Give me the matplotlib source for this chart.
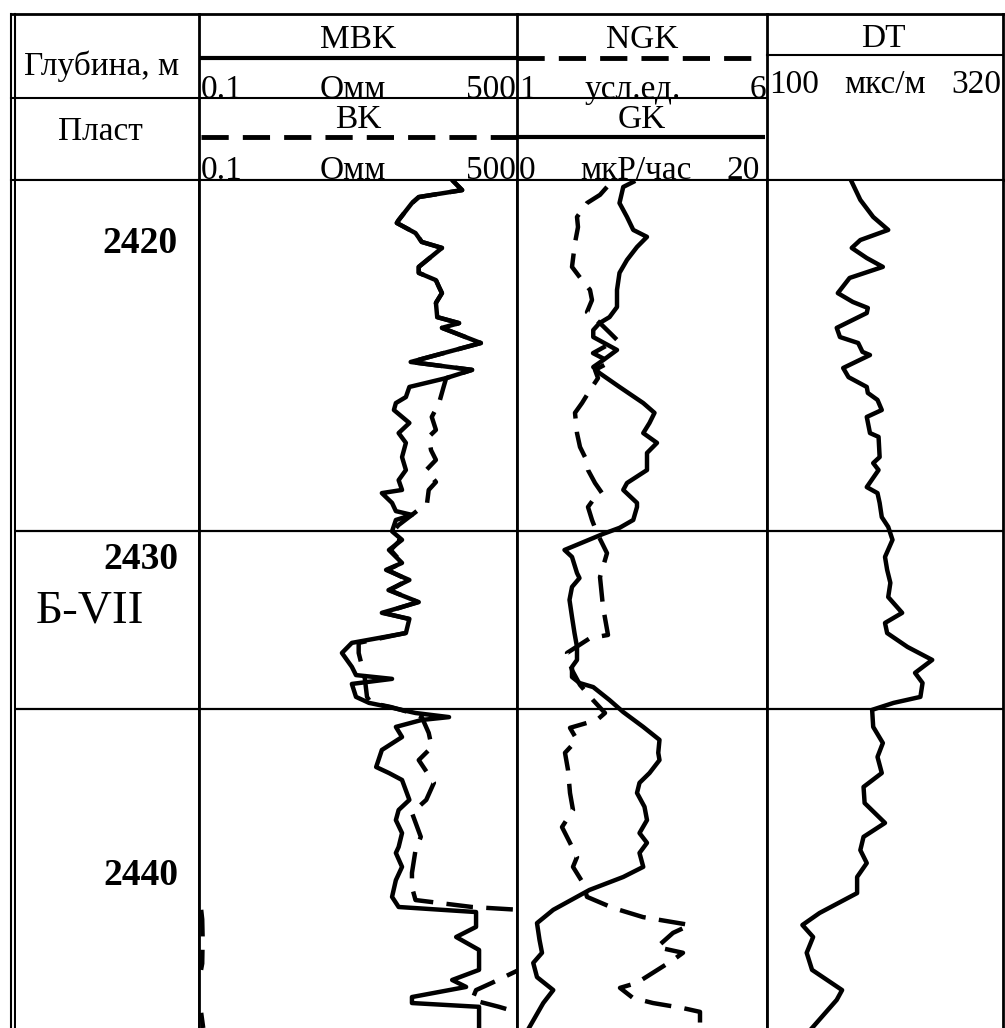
import numpy as np
import matplotlib
matplotlib.use("Agg")
import matplotlib.pyplot as plt

plt.rcParams['font.family'] = ['Liberation Serif', 'DejaVu Serif']

# ---------------- data ----------------
depth_top, depth_bottom = 2418.0, 2444.84
depth_labels = [2420, 2430, 2440]
boundary_depths = [2429.1, 2434.75]
layer_name = "Б-VII"
layer_depth = 2431.65

res_range = (0.1, 500)      # Омм (MBK, BK)
ngk_range = (1, 6)          # усл.ед.
gk_range = (0, 20)          # мкР/час
dt_range = (100, 320)       # мкс/м

mbk_depth = [2418.00, 2418.32, 2418.54, 2418.73, 2419.27, 2419.36, 2419.68, 2419.96, 2420.15, 2420.75,
             2420.94, 2421.17, 2421.39, 2421.58, 2421.89, 2422.34, 2422.53, 2422.68, 2423.16, 2423.76,
             2424.01, 2424.27, 2424.55, 2424.87, 2425.06, 2425.28, 2425.69, 2426.01, 2426.32, 2426.77,
             2427.18, 2427.50, 2427.81, 2427.91, 2428.22, 2428.48, 2428.60, 2428.76, 2429.12, 2429.39,
             2429.71, 2430.12, 2430.34, 2430.66, 2430.98, 2431.36, 2431.70, 2431.89, 2432.34, 2432.65,
             2432.97, 2433.41, 2433.67, 2433.79, 2433.95, 2434.36, 2434.55, 2434.68, 2434.87, 2435.00,
             2435.09, 2435.31, 2435.63, 2436.04, 2436.58, 2436.77, 2436.99, 2437.62, 2437.94, 2438.26,
             2438.67, 2439.11, 2439.30, 2439.74, 2440.16, 2440.69, 2441.01, 2441.10, 2441.17, 2441.64,
             2441.96, 2442.37, 2443.00, 2443.32, 2443.54, 2443.86, 2444.05, 2444.17, 2444.84]
mbk_value = [88, 115, 36, 30, 21, 20, 33, 39, 67, 36,
             36, 57, 62, 67, 57, 59, 106, 67, 190, 29,
             150, 75, 28, 25.5, 19.5, 18.5, 28, 21, 25.5, 23,
             25.5, 21, 23, 13.4, 17.6, 19.5, 30, 19.5, 17.6, 23,
             16.2, 23, 15, 28, 16, 36, 13.4, 28, 25.5, 6.0,
             4.6, 6.0, 6.7, 17.6, 6.0, 6.7, 9.5, 16.2, 33, 81,
             39, 19.5, 23, 13.4, 11.5, 16.2, 23, 28, 21, 19.5,
             23, 21, 19.5, 23, 19.5, 17.6, 21, 67, 167, 167,
             98, 181, 181, 88, 128, 30, 30, 181, 181]

bk_depth = [2418.00, 2418.32, 2418.54, 2418.73, 2419.27, 2419.36, 2419.68, 2419.96, 2420.15, 2420.75,
            2420.94, 2421.17, 2421.39, 2421.58, 2421.89, 2422.34, 2422.53, 2422.68, 2423.16, 2423.76,
            2424.01, 2424.27, 2424.55, 2425.06, 2425.50, 2425.91, 2426.13, 2426.55, 2426.86, 2427.18,
            2427.56, 2427.81, 2428.22, 2428.54, 2428.92, 2429.12, 2429.39, 2429.71, 2430.12, 2430.34,
            2430.66, 2430.98, 2431.36, 2431.70, 2431.89, 2432.34, 2432.65, 2432.97, 2433.41, 2433.79,
            2434.36, 2434.55, 2434.68, 2434.87, 2435.00, 2435.50, 2435.95, 2436.36, 2437.08, 2437.62,
            2438.03, 2438.79, 2439.21, 2439.93, 2440.38, 2440.79, 2441.01, 2441.10, 2441.40, 2441.90,
            2442.40, 2442.80, 2443.00, 2443.41, 2443.64, 2443.95, 2444.17, 2444.36, 2444.84]
bk_value = [88, 115, 36, 30, 21, 20, 33, 39, 67, 36,
            36, 57, 62, 67, 57, 59, 106, 67, 190, 29,
            150, 75, 70, 62, 51, 57, 47, 50, 57, 44,
            57, 47, 45, 32, 21, 18, 22, 17, 23, 15.5,
            27, 16.5, 35, 14, 27, 25, 7.2, 7.2, 7.9, 8.5,
            9.0, 10, 17, 30, 39, 47, 51, 36, 54, 44,
            30, 38, 33, 30, 30, 33, 150, 530, 545, 550,
            548, 545, 528, 256, 167, 150, 309, 530, 560]

gk_depth = [2418.06, 2418.22, 2418.73, 2419.17, 2419.58, 2419.80, 2420.12, 2420.53, 2420.94, 2421.48,
            2422.02, 2422.34, 2422.53, 2422.75, 2422.97, 2423.38, 2423.70, 2423.92, 2424.11, 2424.55,
            2425.06, 2425.37, 2425.69, 2426.01, 2426.32, 2426.64, 2427.18, 2427.59, 2427.81, 2428.22,
            2428.35, 2428.76, 2429.01, 2429.20, 2429.71, 2429.93, 2430.44, 2430.60, 2430.88, 2431.29,
            2431.83, 2432.34, 2432.78, 2433.19, 2433.41, 2433.73, 2433.92, 2434.05, 2434.46, 2434.84,
            2435.31, 2435.72, 2436.13, 2436.36, 2436.77, 2437.08, 2437.40, 2437.84, 2438.26, 2438.67,
            2438.98, 2439.30, 2439.74, 2440.06, 2440.47, 2441.10, 2441.52, 2442.05, 2442.46, 2442.78,
            2443.23, 2443.64, 2444.05, 2444.81]
gk_value = [9.3, 8.5, 8.2, 8.8, 9.3, 10.4, 9.6, 8.8, 8.2, 8.0,
            8.0, 7.4, 6.6, 6.1, 6.1, 8.0, 6.9, 6.1, 6.6, 8.2,
            10.1, 11.0, 10.6, 10.1, 11.2, 10.4, 10.4, 8.8, 8.5, 9.6,
            9.6, 9.3, 8.2, 6.9, 3.8, 4.4, 4.8, 5.0, 4.4, 4.2,
            4.4, 4.6, 4.8, 4.8, 4.4, 4.4, 5.0, 6.1, 7.4, 8.5,
            10.1, 11.4, 11.3, 11.4, 10.6, 9.8, 9.6, 10.2, 10.4, 9.8,
            10.4, 9.8, 10.1, 8.5, 5.8, 2.9, 1.6, 1.8, 2.0, 1.3,
            1.6, 2.9, 2.1, 1.0]

ngk_depth = [2418.22, 2418.47, 2418.73, 2419.17, 2419.49, 2419.99, 2420.75, 2421.17, 2421.48, 2421.80,
             2422.18, 2422.53, 2422.84, 2423.06, 2423.48, 2423.76, 2424.01, 2424.27, 2424.65, 2425.06,
             2425.37, 2426.01, 2426.45, 2426.77, 2427.18, 2427.59, 2427.91, 2428.13, 2428.35, 2428.76,
             2429.17, 2429.81, 2430.57, 2431.51, 2432.40, 2432.50, 2432.97, 2433.51, 2433.98, 2434.46,
             2434.87, 2435.09, 2435.34, 2435.72, 2436.13, 2436.67, 2437.40, 2437.94, 2438.48, 2438.98,
             2439.43, 2439.74, 2440.25, 2440.69, 2441.04, 2441.33, 2441.58, 2441.83, 2442.28, 2442.46,
             2442.69, 2443.41, 2443.57, 2443.89, 2444.05, 2444.21, 2444.33, 2444.68, 2444.84]
ngk_value = [2.80, 2.66, 2.40, 2.20, 2.22, 2.16, 2.10, 2.30, 2.46, 2.50,
             2.40, 2.66, 2.86, 3.00, 2.52, 2.86, 2.56, 2.62, 2.46, 2.30,
             2.16, 2.20, 2.26, 2.36, 2.42, 2.56, 2.70, 2.52, 2.42, 2.50,
             2.60, 2.80, 2.66, 2.72, 2.82, 2.46, 2.00, 2.10, 2.26, 2.52,
             2.76, 2.60, 2.06, 2.20, 1.96, 2.02, 2.06, 2.12, 1.90, 2.06,
             2.20, 2.12, 2.32, 2.40, 2.92, 3.52, 4.46, 4.12, 3.80, 4.32,
             4.12, 3.40, 3.06, 3.32, 3.72, 4.32, 4.66, 4.66, 4.46]

dt_depth = [2418.06, 2418.63, 2419.17, 2419.58, 2419.90, 2420.15, 2420.47, 2420.75, 2421.10, 2421.58,
            2421.86, 2422.05, 2422.21, 2422.68, 2422.97, 2423.16, 2423.44, 2423.54, 2423.95, 2424.24,
            2424.55, 2424.74, 2424.96, 2425.28, 2425.50, 2426.01, 2426.13, 2426.77, 2426.96, 2427.18,
            2427.72, 2427.91, 2428.22, 2428.67, 2428.98, 2429.39, 2429.93, 2430.34, 2430.75, 2431.20,
            2431.70, 2432.02, 2432.34, 2432.78, 2433.19, 2433.60, 2433.92, 2434.36, 2434.55, 2434.77,
            2435.31, 2435.82, 2436.26, 2436.77, 2437.21, 2437.72, 2438.35, 2438.79, 2439.21, 2439.62,
            2440.06, 2440.57, 2441.20, 2441.58, 2441.96, 2442.46, 2443.00, 2443.64, 2443.95, 2444.84]
dt_value = [179, 187, 199, 213, 187, 179, 193, 208, 177, 166,
            180, 194, 193, 165, 168, 185, 189, 196, 171, 176,
            193, 194, 203, 207, 193, 196, 204, 205, 199, 204,
            193, 203, 205, 207, 213, 217, 210, 212, 215, 213,
            226, 210, 212, 231, 254, 238, 245, 243, 218, 198,
            199, 208, 203, 207, 190, 191, 210, 190, 187, 193,
            184, 184, 149, 133, 143, 137, 142, 170, 165, 142]

# ---------------- layout (pixels) ----------------
W, H = 1005, 1028
x_left, x_depth, x_t1, x_t2, x_right = 11, 199, 517, 767, 1003
y_top, y_mid, y_dt, y_hdr = 14, 98, 55, 180

fig = plt.figure(figsize=(W / 100, H / 100), dpi=100)
fig.patch.set_facecolor('white')

hd = fig.add_axes([0, 0, 1, 1], zorder=0)
hd.set_xlim(0, W)
hd.set_ylim(H, 0)
hd.axis('off')

K = 'black'
LW_FRAME = 1.5
CURVE_LW = 3.2
DASH = (0, (6, 3))

# outer frame and header grid
hd.plot([x_left, x_left], [y_top, H], color=K, lw=LW_FRAME)
hd.plot([x_left + 3.5, x_left + 3.5], [y_top, H], color=K, lw=LW_FRAME)
hd.plot([x_left, x_right], [y_top, y_top], color=K, lw=2.0)
for xv in (x_depth, x_t1, x_t2, x_right):
    hd.plot([xv, xv], [y_top, y_hdr], color=K, lw=2.0)
hd.plot([x_left, x_t2], [y_mid, y_mid], color=K, lw=LW_FRAME)
hd.plot([x_t2, x_right], [y_dt, y_dt], color=K, lw=LW_FRAME)
hd.plot([x_left, x_right], [y_hdr, y_hdr], color=K, lw=LW_FRAME)

# legend samples in header
hd.plot([x_depth, x_t1], [58, 58], color=K, lw=3.0, solid_capstyle='butt')
hd.plot([x_depth + 2, x_t1], [137, 137], color=K, lw=3.5, linestyle=(0, (5.6, 2.9)),
        dash_capstyle='butt')
hd.plot([x_t1, x_t2 - 10], [58, 58], color=K, lw=3.5, linestyle=(0, (5.6, 2.9)),
        dash_capstyle='butt')
hd.plot([x_t1, x_t2 - 2], [137, 137], color=K, lw=3.0, solid_capstyle='butt')

FS = 24
tkw = dict(fontsize=FS, color=K)
hd.text(102, 75, 'Глубина, м', ha='center', va='baseline', **tkw)
hd.text(100, 140, 'Пласт', ha='center', va='baseline', **tkw)

hd.text(358, 48, 'MBK', ha='center', va='baseline', **tkw)
hd.text(358, 128, 'BK', ha='center', va='baseline', **tkw)
for yb in (98, 179):
    hd.text(x_depth + 2, yb, f'{res_range[0]:g}', ha='left', va='baseline', **tkw)
    hd.text(353, yb, 'Омм', ha='center', va='baseline', **tkw)
    hd.text(x_t1 - 1, yb, f'{res_range[1]:g}', ha='right', va='baseline', **tkw)

hd.text(642, 48, 'NGK', ha='center', va='baseline', **tkw)
hd.text(x_t1 + 2, 98, f'{ngk_range[0]:g}', ha='left', va='baseline', **tkw)
hd.text(633, 98, 'усл.ед.', ha='center', va='baseline', **tkw)
hd.text(x_t2 - 1, 98, f'{ngk_range[1]:g}', ha='right', va='baseline', **tkw)

hd.text(642, 128, 'GK', ha='center', va='baseline', **tkw)
hd.text(x_t1 + 2, 179, f'{gk_range[0]:g}', ha='left', va='baseline', **tkw)
hd.text(636, 179, 'мкР/час', ha='center', va='baseline', **tkw)
hd.text(x_t2 - 7, 179, f'{gk_range[1]:g}', ha='right', va='baseline', **tkw)

hd.text(883, 47, 'DT', ha='center', va='baseline', **tkw)
hd.text(x_t2 + 2, 93, f'{dt_range[0]:g}', ha='left', va='baseline', **tkw)
hd.text(885, 93, 'мкс/м', ha='center', va='baseline', **tkw)
hd.text(x_right - 2, 93, f'{dt_range[1]:g}', ha='right', va='baseline', **tkw)


# ---------------- tracks ----------------
def track_axes(x0, x1):
    ax = fig.add_axes([x0 / W, 0, (x1 - x0) / W, (H - y_hdr) / H], zorder=1)
    ax.set_ylim(depth_bottom, depth_top)
    ax.set_facecolor('white')
    for s in ('left', 'right'):
        ax.spines[s].set_linewidth(2.0)
    ax.spines['top'].set_linewidth(LW_FRAME)
    ax.spines['bottom'].set_visible(False)
    for d in boundary_depths:
        ax.axhline(d, color=K, lw=1.6, zorder=1.5)
    return ax


def clean(ax):
    ax.set_xticks([])
    ax.set_xticks([], minor=True)
    ax.set_yticks([])
    ax.set_yticks([], minor=True)


ax0 = track_axes(x_left + 4.5, x_depth)
ax0.spines['left'].set_visible(False)
ax0.set_xlim(0, 1)
clean(ax0)
for d in depth_labels:
    ax0.text(0.885, d, str(d), ha='right', va='center', fontsize=27, fontweight='bold', color=K)
ax0.text(0.11, layer_depth, layer_name, ha='left', va='center', fontsize=34, color=K)

# Track 1: MBK (solid) and BK (dashed), log scale
ax1 = track_axes(x_depth, x_t1)
ax1.set_xscale('log')
ax1.set_xlim(*res_range)
clean(ax1)
bk_arr = np.array(bk_value, dtype=float)
bk_wrap = np.where(bk_arr > res_range[1], bk_arr / (res_range[1] / res_range[0]), np.nan)
ax1.plot(bk_arr, bk_depth, color=K, lw=CURVE_LW, linestyle=DASH, dash_capstyle='butt', zorder=2)
ax1.plot(bk_wrap, bk_depth, color=K, lw=CURVE_LW, linestyle=DASH, dash_capstyle='butt', zorder=2)
ax1.plot(mbk_value, mbk_depth, color=K, lw=CURVE_LW, solid_joinstyle='round', zorder=3)

# Track 2: GK (solid) and NGK (dashed)
ax2 = track_axes(x_t1, x_t2)
ax2.set_xlim(*gk_range)
clean(ax2)
ax2.plot(gk_value, gk_depth, color=K, lw=CURVE_LW, zorder=3)
ax2n = ax2.twiny()
ax2n.set_xlim(*ngk_range)
ax2n.set_ylim(depth_bottom, depth_top)
clean(ax2n)
for s in ax2n.spines.values():
    s.set_visible(False)
ax2n.plot(ngk_value, ngk_depth, color=K, lw=CURVE_LW, linestyle=DASH, dash_capstyle='butt', zorder=2)

# Track 3: DT
ax3 = track_axes(x_t2, x_right)
ax3.set_xlim(*dt_range)
clean(ax3)
ax3.plot(dt_value, dt_depth, color=K, lw=CURVE_LW, zorder=3)

fig.savefig('out.png', dpi=100, facecolor='white')
